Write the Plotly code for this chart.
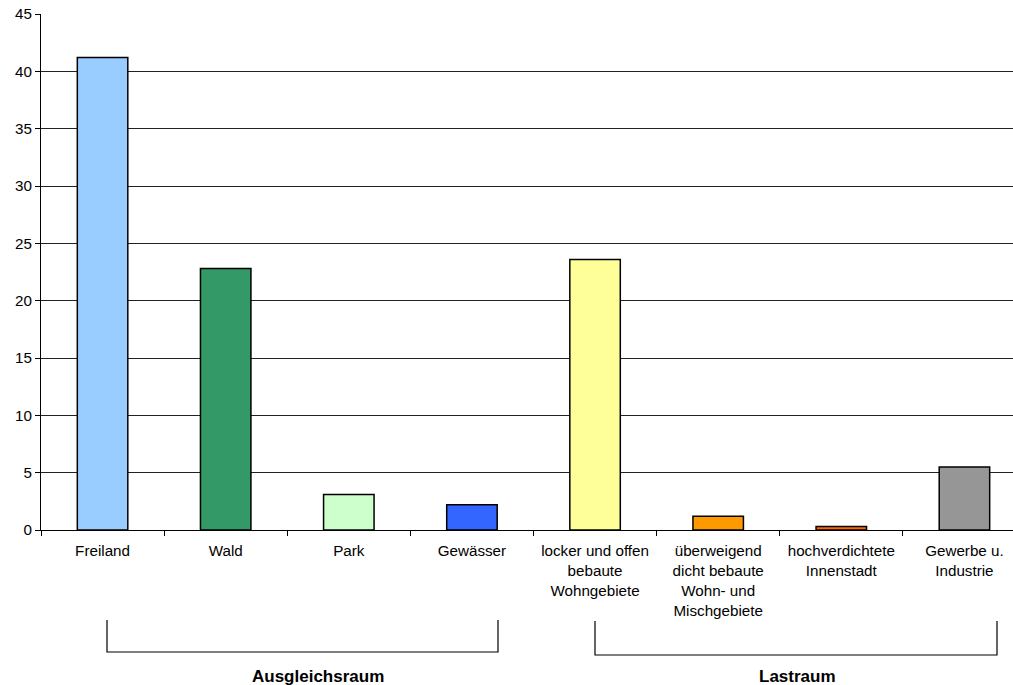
import plotly.graph_objects as go

categories = ["Freiland", "Wald", "Park", "Gewässer",
              "locker und offen<br>bebaute<br>Wohngebiete",
              "überweigend<br>dicht bebaute<br>Wohn- und<br>Mischgebiete",
              "hochverdichtete<br>Innenstadt",
              "Gewerbe u.<br>Industrie"]
values = [41.2, 22.8, 3.1, 2.2, 23.6, 1.2, 0.3, 5.5]
colors = ["#99CCFF", "#339966", "#CCFFCC", "#3366FF",
          "#FFFF99", "#FF9900", "#FF6600", "#969696"]
group_labels = ["Ausgleichsraum", "Lastraum"]

# figure is slightly wider than the window; the right edge is cropped like the reference
W, H = 1026, 685
ml, mr, mt, mb = 41, 0, 14, 155
pw = W - ml - mr
ph = H - mt - mb

def px_x(x):
    return (x - ml) / pw

def px_y(y):
    return (H - mb - y) / ph

fig = go.Figure(go.Bar(
    x=categories, y=values,
    marker=dict(color=colors, line=dict(color="black", width=1.5)),
    width=0.41,
))

font = dict(family="Liberation Sans, Arial, sans-serif", size=15.2, color="black")

fig.update_layout(
    width=W, height=H,
    margin=dict(l=ml, r=mr, t=mt, b=mb),
    paper_bgcolor="white", plot_bgcolor="white",
    showlegend=False,
    font=font,
    bargap=0.59,
)
fig.update_xaxes(
    type="category", range=[-0.5, 7.5],
    showline=True, linecolor="black", linewidth=1,
    ticks="outside", tickson="boundaries", ticklen=5, tickcolor="black",
    showgrid=False, tickfont=font, tickangle=0, ticklabelstandoff=7,
)
fig.update_yaxes(
    range=[0, 45], dtick=5,
    showline=True, linecolor="black", linewidth=1,
    ticks="outside", ticklen=5, tickcolor="black",
    showgrid=True, gridcolor="#222222", gridwidth=1,
    zeroline=False, tickfont=font,
)

# brackets
brackets = [(107, 498, 620, 652), (595, 997, 621, 655)]
label_x = [318, 797]
for (x0, x1, yt, yb), lab, lx in zip(brackets, group_labels, label_x):
    fig.add_shape(type="path", xref="paper", yref="paper",
                  path=f"M {px_x(x0)},{px_y(yt)} L {px_x(x0)},{px_y(yb)} L {px_x(x1)},{px_y(yb)} L {px_x(x1)},{px_y(yt)}",
                  line=dict(color="black", width=1.2))
    fig.add_annotation(x=px_x(lx), y=px_y(676), xref="paper", yref="paper",
                       text=f"<b>{lab}</b>", showarrow=False,
                       font=dict(family="Liberation Sans, Arial, sans-serif", size=17, color="black"),
                       xanchor="center", yanchor="middle")

fig.write_html("out.html",
               config={"displayModeBar": False},
               post_script="document.body.style.margin='0';document.body.style.overflow='hidden';")
